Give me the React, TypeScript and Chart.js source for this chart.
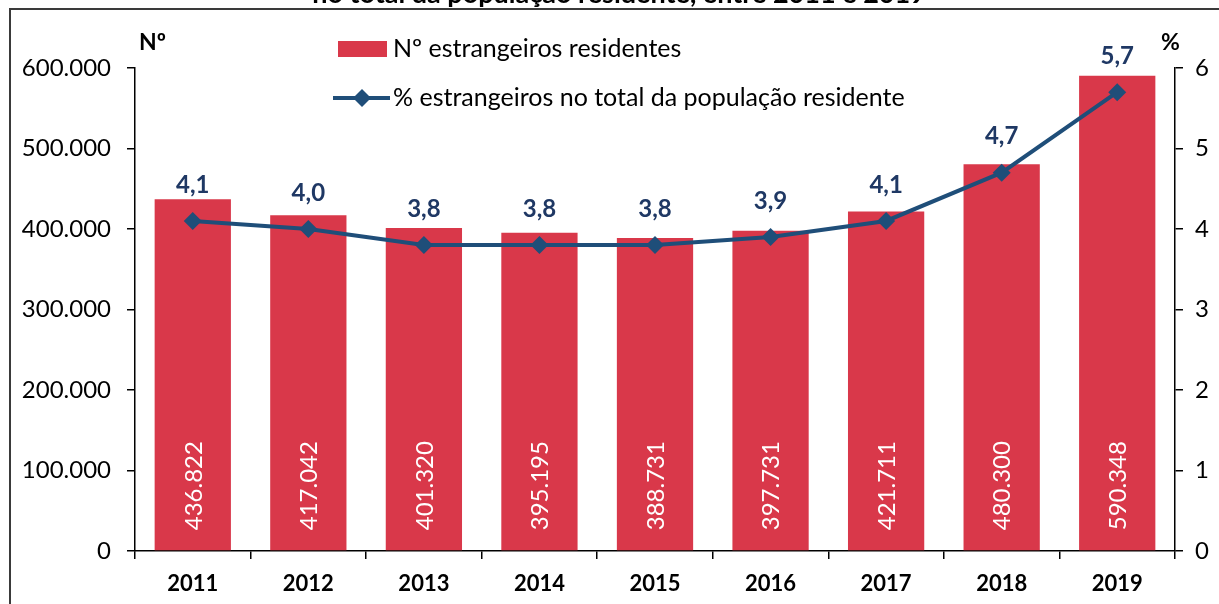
import React, { useEffect, useRef } from "react";
import { Chart, registerables } from "chart.js";

Chart.register(...registerables);

const years = ["2011", "2012", "2013", "2014", "2015", "2016", "2017", "2018", "2019"];
const residents = [436822, 417042, 401320, 395195, 388731, 397731, 421711, 480300, 590348];
const percents = [4.1, 4.0, 3.8, 3.8, 3.8, 3.9, 4.1, 4.7, 5.7];
const barLabel = "Nº estrangeiros residentes";
const lineLabel = "% estrangeiros no total da população residente";
const titleText = "no total da população residente, entre 2011 e 2019";

const BAR_COLOR = "#D9384A";
const LINE_COLOR = "#1F4E79";
const LABEL_NAVY = "#1F3864";
const FONT = "Lato, 'Noto Sans', sans-serif";

function fmtThousands(v: number): string {
  const s = Math.round(v).toString();
  return s.replace(/\B(?=(\d{3})+(?!\d))/g, ".");
}

const decorPlugin = {
  id: "decor",
  beforeDraw(chart: any) {
    const ctx = chart.ctx;
    ctx.save();
    ctx.fillStyle = "#ffffff";
    ctx.fillRect(0, 0, chart.width, chart.height);
    // frame
    ctx.strokeStyle = "#3a3a3a";
    ctx.lineWidth = 2;
    ctx.beginPath();
    ctx.moveTo(10, 604);
    ctx.lineTo(10, 9);
    ctx.lineTo(1219, 9);
    ctx.stroke();
    // cut title
    ctx.fillStyle = "#000";
    ctx.font = "bold 27px " + FONT;
    ctx.textAlign = "center";
    ctx.textBaseline = "alphabetic";
    ctx.fillText(titleText, 619, 3);
    ctx.restore();
  },
  afterDraw(chart: any) {
    const ctx = chart.ctx;
    ctx.save();
    // axis titles
    ctx.fillStyle = "#000";
    ctx.font = "bold 23px " + FONT;
    ctx.textBaseline = "middle";
    ctx.textAlign = "left";
    ctx.fillText("Nº", 139, 43);
    ctx.fillText("%", 1161, 43);
    // legend
    ctx.font = "25px " + FONT;
    ctx.fillStyle = BAR_COLOR;
    ctx.fillRect(338, 41, 49, 16);
    ctx.fillStyle = "#000";
    ctx.fillText(barLabel, 393, 49);
    ctx.strokeStyle = LINE_COLOR;
    ctx.lineWidth = 4;
    ctx.beginPath();
    ctx.moveTo(333, 98);
    ctx.lineTo(390, 98);
    ctx.stroke();
    ctx.fillStyle = LINE_COLOR;
    ctx.beginPath();
    ctx.moveTo(362, 89);
    ctx.lineTo(371, 98);
    ctx.lineTo(362, 107);
    ctx.lineTo(353, 98);
    ctx.closePath();
    ctx.fill();
    ctx.fillStyle = "#000";
    ctx.fillText(lineLabel, 393, 98);
    ctx.restore();
  },
  afterDatasetsDraw(chart: any) {
    const ctx = chart.ctx;
    ctx.save();
    const barMeta = chart.getDatasetMeta(1);
    ctx.font = "24px " + FONT;
    ctx.fillStyle = "#ffffff";
    ctx.textBaseline = "middle";
    ctx.textAlign = "left";
    barMeta.data.forEach((el: any, i: number) => {
      ctx.save();
      ctx.translate(el.x, el.base - 20);
      ctx.rotate(-Math.PI / 2);
      ctx.fillText(fmtThousands(residents[i]), 0, 1);
      ctx.restore();
    });
    const lineMeta = chart.getDatasetMeta(0);
    ctx.font = "bold 24px " + FONT;
    ctx.fillStyle = LABEL_NAVY;
    ctx.textAlign = "center";
    lineMeta.data.forEach((el: any, i: number) => {
      ctx.fillText(percents[i].toFixed(1).replace(".", ","), el.x, el.y - 36);
    });
    ctx.restore();
  },
};

export default function App() {
  const ref = useRef<HTMLCanvasElement | null>(null);
  useEffect(() => {
    if (!ref.current) return;
    const chart = new Chart(ref.current, {
      type: "bar",
      data: {
        labels: years,
        datasets: [
          {
            type: "line",
            label: lineLabel,
            data: percents,
            yAxisID: "y1",
            borderColor: LINE_COLOR,
            backgroundColor: LINE_COLOR,
            borderWidth: 4,
            pointStyle: "rectRot",
            pointRadius: 9,
            pointBackgroundColor: LINE_COLOR,
            pointBorderColor: LINE_COLOR,
            pointBorderWidth: 0,
            tension: 0,
            order: 0,
          } as any,
          {
            type: "bar",
            label: barLabel,
            data: residents,
            yAxisID: "y",
            backgroundColor: BAR_COLOR,
            borderWidth: 0,
            barPercentage: 0.66,
            categoryPercentage: 1,
            order: 1,
          },
        ],
      },
      options: {
        responsive: false,
        animation: false,
        layout: { padding: { top: 68, left: 0, right: 0, bottom: 0 } },
        plugins: {
          legend: { display: false },
          tooltip: { enabled: false },
          title: { display: false },
        },
        scales: {
          x: {
            offset: true,
            grid: {
              offset: true,
              drawOnChartArea: false,
              drawTicks: true,
              tickLength: 8,
              color: "#000",
              lineWidth: 1.5,
            },
            border: { display: true, color: "#000", width: 1.5 },
            ticks: {
              color: "#000",
              font: { family: FONT, size: 22, weight: "bold" },
              padding: 12,
            },
            afterFit: (s: any) => {
              s.height = 53;
            },
          },
          y: {
            position: "left",
            min: 0,
            max: 600000,
            grid: {
              drawOnChartArea: false,
              drawTicks: true,
              tickLength: 8,
              color: "#000",
              lineWidth: 1.5,
            },
            border: { display: true, color: "#000", width: 1.5 },
            ticks: {
              stepSize: 100000,
              color: "#000",
              font: { family: FONT, size: 24 },
              padding: 16,
              callback: (v: any) => fmtThousands(Number(v)),
            },
            afterFit: (s: any) => {
              s.width = 135;
            },
          },
          y1: {
            position: "right",
            min: 0,
            max: 6,
            grid: {
              drawOnChartArea: false,
              drawTicks: true,
              tickLength: 8,
              color: "#000",
              lineWidth: 1.5,
            },
            border: { display: true, color: "#000", width: 1.5 },
            ticks: {
              stepSize: 1,
              color: "#000",
              font: { family: FONT, size: 24 },
              padding: 12,
            },
            afterFit: (s: any) => {
              s.width = 44;
            },
          },
        },
      },
      plugins: [decorPlugin],
    });
    return () => chart.destroy();
  }, []);
  return (
    <div style={{ position: "absolute", left: 0, top: 0, width: 1219, height: 604, background: "#fff" }}>
      <canvas ref={ref} width={1219} height={604} style={{ display: "block", width: 1219, height: 604 }} />
    </div>
  );
}
